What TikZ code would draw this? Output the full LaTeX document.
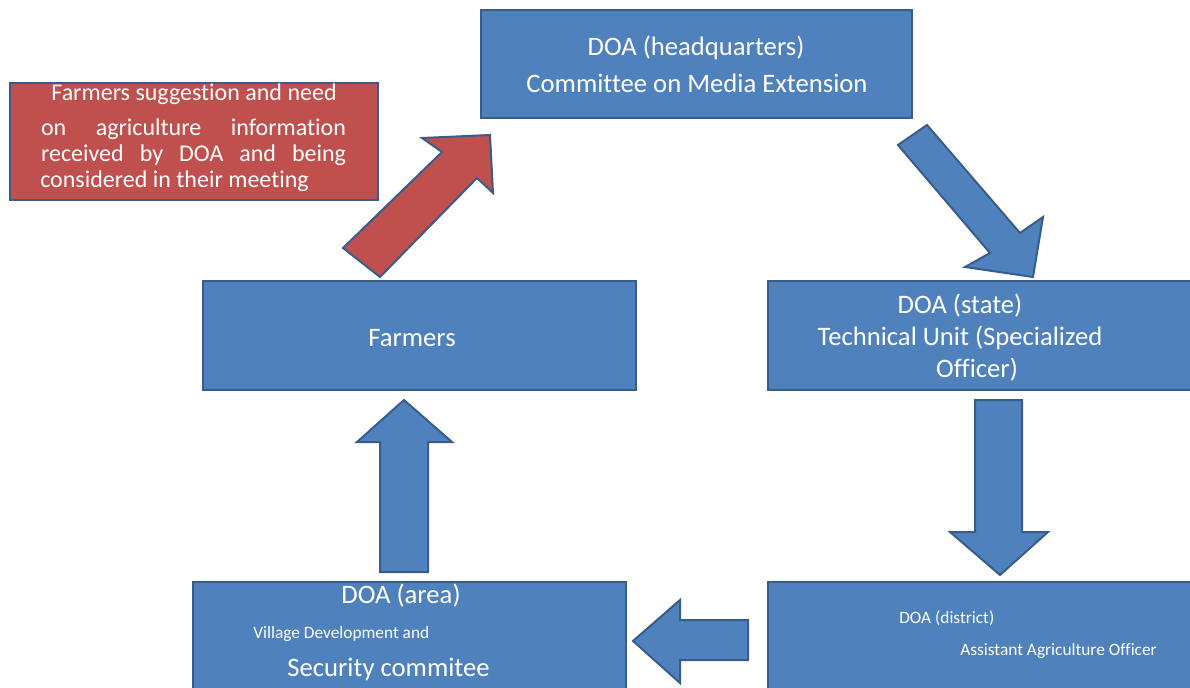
\documentclass[tikz,border=0pt]{standalone}
\usepackage{fontspec}
\setmainfont{Carlito}[Ligatures=NoCommon]
\definecolor{boxblue}{HTML}{4F81BD}
\definecolor{boxline}{HTML}{385D8A}
\definecolor{boxred}{HTML}{C0504D}
\tikzset{
  unitbox/.style={draw=boxline, fill=boxblue, line width=1.5pt, inner sep=0pt},
  notebox/.style={unitbox, fill=boxred},
  flowarrow/.style={draw=boxline, fill=boxblue, line width=1.5pt, line join=miter},
  bigtxt/.style={text=white, font=\fontsize{20}{24}\selectfont, inner sep=0pt},
  notetxt/.style={text=white, font=\fontsize{18}{22}\selectfont, inner sep=0pt},
  smalltxt/.style={text=white, font=\fontsize{13}{16}\selectfont, inner sep=0pt},
}
\begin{document}
\begin{tikzpicture}[x=0.75pt, y=-0.75pt]
        \useasboundingbox (0,0) rectangle (1190,688);
        \clip (0,0) rectangle (1190,688);

        % Boxes
        \node[unitbox, minimum width=323.25pt, minimum height=81pt] (hq) at (696.5,64) {};
        \node[notebox, minimum width=276pt, minimum height=87.75pt] (note) at (194,141.5) {};
        \node[unitbox, minimum width=324.75pt, minimum height=81.75pt] (farmers) at (419.5,335.5) {};
        \node[unitbox, minimum width=324pt, minimum height=81.75pt] (state) at (984,335.5) {};
        \node[unitbox, minimum width=324.75pt, minimum height=88.5pt] (area) at (409.5,641) {};
        \node[unitbox, minimum width=324pt, minimum height=88.5pt] (district) at (984,641) {};

        % Texts in the boxes
        \node[bigtxt] (hq-a) at (696,48) {DOA (headquarters)};
        \node[bigtxt] (hq-b) at (697,83) {Committee on Media Extension};

        \node[notetxt] (note-a) at (194,94) {Farmers suggestion and need};
        \node[notetxt] (note-b) at (193.5,129) {\makebox[228.75pt][s]{on agriculture information}};
        \node[notetxt] (note-c) at (193.5,155) {\makebox[228.75pt][s]{received by DOA and being}};
        \node[notetxt, anchor=west] (note-d) at (40,181) {considered in their meeting};

        \node[bigtxt] (farmers-a) at (412,338) {Farmers};

        \node[bigtxt] (state-a) at (960,306) {DOA (state)};
        \node[bigtxt] (state-b) at (960,338) {Technical Unit (Specialized};
        \node[bigtxt] (state-c) at (977,370) {Officer)};

        \node[bigtxt] (area-a) at (401,596) {DOA (area)};
        \node[smalltxt, anchor=west] (area-b) at (253,634) {Village Development and};
        \node[bigtxt] (area-c) at (388.5,669) {Security commitee};

        \node[smalltxt, anchor=west] (district-a) at (899,618) {DOA (district)};
        \node[smalltxt, anchor=west] (district-b) at (960,651) {Assistant Agriculture Officer};

        % Block arrows
        \draw[flowarrow, fill=boxred] (343,248) -- (442,152) -- (422,138) -- (490,135) -- (493,193) -- (477,178) -- (380,277) -- cycle;
        \draw[flowarrow] (898,145) -- (927,125) -- (1020,233) -- (1043,217) -- (1033,277) -- (965,267) -- (990,253) -- cycle;
        \draw[flowarrow] (975,400) -- (1022,400) -- (1022,532) -- (1048,532) -- (1000,575) -- (950,532) -- (975,532) -- cycle;
        \draw[flowarrow] (748,620) -- (680,620) -- (680,600) -- (633,641) -- (680,683) -- (680,660) -- (748,660) -- cycle;
        \draw[flowarrow] (380,572) -- (380,442) -- (357,442) -- (404,400) -- (452,442) -- (428,442) -- (428,572) -- cycle;
\end{tikzpicture}
\end{document}
